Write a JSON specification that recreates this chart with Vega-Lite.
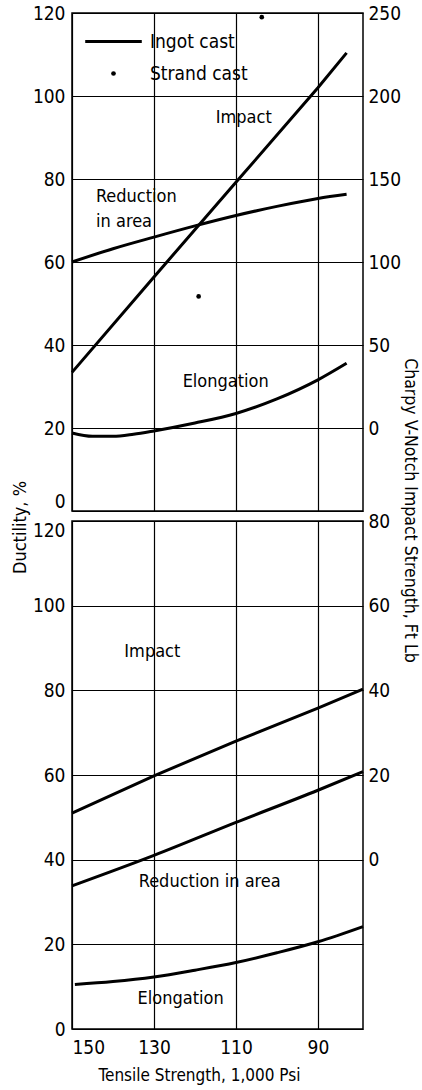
{
  "$schema": "https://vega.github.io/schema/vega-lite/v6.json",
  "padding": {"left": 10, "top": 3, "right": 2, "bottom": 3},
  "background": "white",
  "bounds": "flush",
  "spacing": 10,
  "config": {
    "font": "DejaVu Sans Condensed",
    "view": {"stroke": "black", "strokeWidth": 1.5},
    "axis": {
      "labelFont": "DejaVu Sans Condensed", "labelFontSize": 19, "labelColor": "black",
      "titleFont": "DejaVu Sans Condensed", "titleFontSize": 17, "titleFontWeight": "normal", "titleColor": "black",
      "ticks": false, "domain": false, "gridColor": "black", "gridOpacity": 1, "gridWidth": 1.2, "labelPadding": 7
    },
    "text": {"font": "DejaVu Sans Condensed", "fontSize": 18, "color": "black"}
  },
  "datasets": {
    "topLines": [
      {"t": 150, "d": 60, "property": "Reduction in area", "cast": "Ingot cast"},
      {"t": 140, "d": 63.2, "property": "Reduction in area", "cast": "Ingot cast"},
      {"t": 130, "d": 66, "property": "Reduction in area", "cast": "Ingot cast"},
      {"t": 120, "d": 68.7, "property": "Reduction in area", "cast": "Ingot cast"},
      {"t": 110, "d": 71.2, "property": "Reduction in area", "cast": "Ingot cast"},
      {"t": 100, "d": 73.4, "property": "Reduction in area", "cast": "Ingot cast"},
      {"t": 90, "d": 75.3, "property": "Reduction in area", "cast": "Ingot cast"},
      {"t": 83, "d": 76.3, "property": "Reduction in area", "cast": "Ingot cast"},
      {"t": 150, "d": 18.8, "property": "Elongation", "cast": "Ingot cast"},
      {"t": 145, "d": 18.0, "property": "Elongation", "cast": "Ingot cast"},
      {"t": 140, "d": 18.0, "property": "Elongation", "cast": "Ingot cast"},
      {"t": 135, "d": 18.5, "property": "Elongation", "cast": "Ingot cast"},
      {"t": 130, "d": 19.3, "property": "Elongation", "cast": "Ingot cast"},
      {"t": 120, "d": 21.2, "property": "Elongation", "cast": "Ingot cast"},
      {"t": 110, "d": 23.5, "property": "Elongation", "cast": "Ingot cast"},
      {"t": 100, "d": 27, "property": "Elongation", "cast": "Ingot cast"},
      {"t": 90, "d": 31.6, "property": "Elongation", "cast": "Ingot cast"},
      {"t": 83, "d": 35.6, "property": "Elongation", "cast": "Ingot cast"}
    ],
    "topStrand": [
      {"t": 103.7, "d": 119, "cast": "Strand cast"},
      {"t": 119.1, "d": 51.7, "cast": "Strand cast"}
    ],
    "topImpact": [
      {"t": 150, "impact": 33.5, "cast": "Ingot cast"},
      {"t": 130, "impact": 91, "cast": "Ingot cast"},
      {"t": 110, "impact": 148, "cast": "Ingot cast"},
      {"t": 90, "impact": 205, "cast": "Ingot cast"},
      {"t": 83, "impact": 226, "cast": "Ingot cast"}
    ],
    "topLabels": [
      {"t": 108.1, "d": 94.7, "label": "Impact"},
      {"t": 134.3, "d": 75.7, "label": "Reduction"},
      {"t": 137.3, "d": 69.7, "label": "in area"},
      {"t": 112.5, "d": 31, "label": "Elongation"}
    ],
    "bottomLines": [
      {"t": 150, "d": 33.8, "property": "Reduction in area"},
      {"t": 130, "d": 41, "property": "Reduction in area"},
      {"t": 110, "d": 48.8, "property": "Reduction in area"},
      {"t": 90, "d": 56.4, "property": "Reduction in area"},
      {"t": 79, "d": 60.8, "property": "Reduction in area"},
      {"t": 149.3, "d": 10.5, "property": "Elongation"},
      {"t": 140, "d": 11.2, "property": "Elongation"},
      {"t": 130, "d": 12.3, "property": "Elongation"},
      {"t": 120, "d": 13.9, "property": "Elongation"},
      {"t": 110, "d": 15.7, "property": "Elongation"},
      {"t": 100, "d": 18, "property": "Elongation"},
      {"t": 90, "d": 20.6, "property": "Elongation"},
      {"t": 79, "d": 24.2, "property": "Elongation"}
    ],
    "bottomImpact": [
      {"t": 150, "impact": 11},
      {"t": 130, "impact": 19.8},
      {"t": 110, "impact": 28},
      {"t": 90, "impact": 35.8},
      {"t": 79, "impact": 40.3}
    ],
    "bottomLabels": [
      {"t": 130.4, "d": 89.1, "label": "Impact"},
      {"t": 116.4, "d": 34.7, "label": "Reduction in area"},
      {"t": 123.5, "d": 7, "label": "Elongation"}
    ]
  },
  "vconcat": [
    {
      "width": 291,
      "height": 498,
      "layer": [
        {
          "layer": [
            {
              "data": {"name": "topLines"},
              "mark": {"type": "line", "strokeWidth": 3, "interpolate": "monotone"},
              "encoding": {
                "x": {"field": "t", "type": "quantitative", "scale": {"domain": [150, 79], "nice": false, "zero": false},
                      "axis": {"values": [150, 130, 110, 90], "labels": false, "title": null}},
                "y": {"field": "d", "type": "quantitative", "scale": {"domain": [0, 120], "nice": false},
                      "axis": {"values": [0, 20, 40, 60, 80, 100, 120], "title": "Ductility, %", "titleY": 514, "titlePadding": 3, "titleFontSize": 18,
                               "labelBaseline": {"condition": {"test": "datum.value === 0", "value": "bottom"}, "value": "middle"}}},
                "detail": {"field": "property"},
                "color": {"field": "cast", "type": "nominal",
                          "scale": {"domain": ["Ingot cast", "Strand cast"], "range": ["black", "black"]},
                          "legend": {
                            "orient": "none", "legendX": 32, "legendY": 19, "title": null, "padding": 0,
                            "labelFont": "DejaVu Sans Condensed", "labelFontSize": 19, "labelColor": "black",
                            "labelOffset": 27, "symbolSize": 3200, "symbolStrokeWidth": 3, "rowPadding": 12,
                            "encode": {"symbols": {"update": {
                              "shape": {"signal": "datum.value === 'Strand cast' ? 'circle' : 'stroke'"},
                              "size": {"signal": "datum.value === 'Strand cast' ? 22 : 3200"},
                              "strokeWidth": {"signal": "datum.value === 'Strand cast' ? 0 : 3"},
                              "fill": {"value": "black"},
                              "stroke": {"value": "black"},
                              "opacity": {"value": 1}
                            }}}
                          }}
              }
            },
            {
              "data": {"name": "topStrand"},
              "mark": {"type": "point", "filled": true, "size": 22, "opacity": 1},
              "encoding": {
                "x": {"field": "t", "type": "quantitative"},
                "y": {"field": "d", "type": "quantitative"},
                "color": {"field": "cast", "type": "nominal"}
              }
            },
            {
              "data": {"name": "topLabels"},
              "mark": {"type": "text", "align": "center", "baseline": "middle"},
              "encoding": {
                "x": {"field": "t", "type": "quantitative"},
                "y": {"field": "d", "type": "quantitative"},
                "text": {"field": "label"}
              }
            }
          ]
        },
        {
          "data": {"name": "topImpact"},
          "mark": {"type": "line", "strokeWidth": 3, "color": "black"},
          "encoding": {
            "x": {"field": "t", "type": "quantitative"},
            "y": {"field": "impact", "type": "quantitative", "scale": {"domain": [-50, 250], "nice": false, "zero": false},
                  "axis": {"orient": "right", "values": [0, 50, 100, 150, 200, 250], "grid": false, "labelPadding": 5,
                           "title": "Charpy V-Notch Impact Strength, Ft Lb", "titleY": 497, "titlePadding": 0, "titleFontSize": 17.5}}
          }
        }
      ],
      "resolve": {"scale": {"y": "independent"}}
    },
    {
      "width": 291,
      "height": 508,
      "layer": [
        {
          "layer": [
            {
              "data": {"name": "bottomLines"},
              "mark": {"type": "line", "strokeWidth": 3, "color": "black", "interpolate": "monotone"},
              "encoding": {
                "x": {"field": "t", "type": "quantitative", "scale": {"domain": [150, 79], "nice": false, "zero": false},
                      "axis": {"values": [150, 130, 110, 90], "title": "Tensile Strength, 1,000 Psi", "titleX": 127, "titleFontSize": 17, "labelPadding": 9, "titlePadding": 10}},
                "y": {"field": "d", "type": "quantitative", "scale": {"domain": [0, 120], "nice": false},
                      "axis": {"values": [0, 20, 40, 60, 80, 100, 120], "title": null,
                               "labelBaseline": {"condition": {"test": "datum.value === 120", "value": "top"}, "value": "middle"}}},
                "detail": {"field": "property"}
              }
            },
            {
              "data": {"name": "bottomLabels"},
              "mark": {"type": "text", "align": "center", "baseline": "middle"},
              "encoding": {
                "x": {"field": "t", "type": "quantitative"},
                "y": {"field": "d", "type": "quantitative"},
                "text": {"field": "label"}
              }
            }
          ]
        },
        {
          "data": {"name": "bottomImpact"},
          "mark": {"type": "line", "strokeWidth": 3, "color": "black"},
          "encoding": {
            "x": {"field": "t", "type": "quantitative"},
            "y": {"field": "impact", "type": "quantitative", "scale": {"domain": [-40, 80], "nice": false, "zero": false},
                  "axis": {"orient": "right", "values": [0, 20, 40, 60, 80], "grid": false, "labelPadding": 5, "title": null}}
          }
        }
      ],
      "resolve": {"scale": {"y": "independent"}}
    }
  ]
}
